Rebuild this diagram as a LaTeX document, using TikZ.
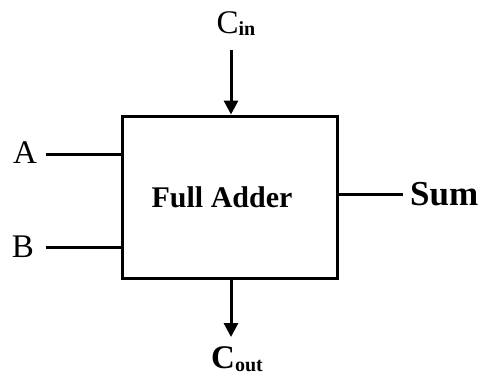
\documentclass[tikz,border=0pt]{standalone}
\usepackage{fontspec}
\setmainfont{Liberation Serif}
\usepackage{tikz}
\usetikzlibrary{arrows.meta,positioning}

\tikzset{
  wire/.style={line width=3pt},
  sig/.style={wire,-{Triangle[length=14pt,width=14pt]}},
  pin/.style={font=\fontsize{33}{33}\selectfont, inner sep=0pt}
}

\begin{document}
\begin{tikzpicture}[x=1pt,y=-1pt]
  \useasboundingbox (0,0) rectangle (482,376);
  % adder block
  \node[draw, wire, minimum width=215pt, minimum height=162pt, inner sep=0pt]
       (fa) at (229.5,197) {};
  \node[pin, font=\fontsize{30}{30}\selectfont\bfseries] (name) at (222,197) {Full Adder};

  % inputs
  \node[pin] (A) at (25,153) {A};
  \node[pin] (B) at (23,247) {B};
  \coordinate (a) at (46,154);
  \coordinate (b) at (46,247);
  \draw[wire] (a) -- (a -| fa.west);
  \draw[wire] (b) -- (b -| fa.west);

  \node[pin] (cin) at (236,24) {C\raisebox{-2pt}{\fontsize{20}{20}\selectfont\bfseries in}};
  \coordinate (c) at (231,50);
  \draw[sig] (c) -- (c |- fa.north);

  % outputs
  \coordinate (s) at (403,194);
  \draw[wire] (s -| fa.east) -- (s);
  \node[pin, font=\fontsize{35}{35}\selectfont\bfseries, anchor=west] (sum) at (410,194) {Sum};

  \coordinate (co) at (231,337);
  \draw[sig] (co |- fa.south) -- (co);
  \node[pin, font=\fontsize{33}{33}\selectfont\bfseries] (cout) at (237,359) {C\raisebox{-3pt}{\fontsize{20}{20}\selectfont out}};
\end{tikzpicture}
\end{document}
